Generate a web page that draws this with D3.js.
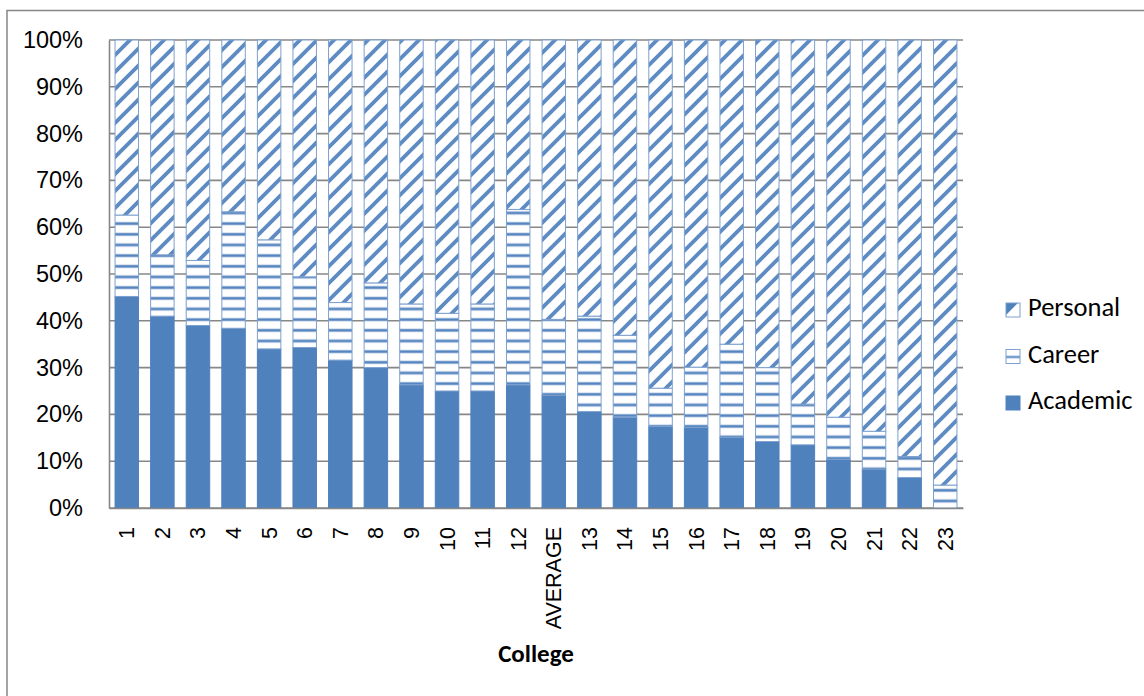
<!DOCTYPE html>
<html>
<head>
<meta charset="utf-8">
<script src="https://cdn.jsdelivr.net/npm/d3@7"></script>
<style>
  html, body { margin: 0; padding: 0; background: #fff; }
  svg { display: block; font-family: Carlito, Calibri, Lato, sans-serif; }
</style>
</head>
<body>
<svg id="chart" width="1144" height="696"></svg>
<script>
// Share of requests by type for each college (100% stacked)
const categories = ["1","2","3","4","5","6","7","8","9","10","11","12","AVERAGE",
                    "13","14","15","16","17","18","19","20","21","22","23"];
const academic = [45.2, 41.0, 39.0, 38.4, 34.0, 34.3, 31.6, 30.0, 26.3, 25.0, 25.0, 26.3,
                  24.1, 20.6, 19.4, 17.4, 17.2, 15.1, 14.2, 13.5, 10.4, 8.3, 6.5, 0.0];
const career   = [17.4, 13.1, 13.9, 24.9, 23.3, 15.1, 12.3, 18.1, 17.3, 16.6, 18.6, 37.5,
                  16.2, 20.4, 17.5, 8.2, 12.9, 19.9, 15.8, 8.7, 9.0, 8.1, 4.5, 4.9];
const personal = [37.4, 45.9, 47.1, 36.7, 42.7, 50.6, 56.1, 51.9, 56.4, 58.4, 56.4, 36.2,
                  59.7, 59.0, 63.1, 74.4, 69.9, 65.0, 70.0, 77.8, 80.6, 83.6, 89.0, 95.1];
const seriesKeys = ["academic", "career", "personal"];
const seriesNames = { academic: "Academic", career: "Career", personal: "Personal" };
const yTicks = [0, 0.1, 0.2, 0.3, 0.4, 0.5, 0.6, 0.7, 0.8, 0.9, 1.0];

const rows = categories.map((c, i) => ({
  college: c, academic: academic[i], career: career[i], personal: personal[i]
}));

const svg = d3.select("#chart");
const blue = "#4F81BD";
const edge = "#7da0cf";
const grid = "#878787";

// ---- fill patterns ----
const defs = svg.append("defs");

// upward diagonal stripes
const diag = defs.append("pattern")
  .attr("id", "pat-personal")
  .attr("patternUnits", "userSpaceOnUse")
  .attr("width", 17).attr("height", 17);
diag.append("rect").attr("width", 17).attr("height", 17).attr("fill", "#fff");
diag.append("path")
  .attr("d", "M-4,4 L4,-4 M0,17 L17,0 M13,21 L21,13")
  .attr("stroke", blue).attr("stroke-width", 3.8).attr("stroke-opacity", 0.92);

// horizontal stripes
const horiz = defs.append("pattern")
  .attr("id", "pat-career")
  .attr("patternUnits", "userSpaceOnUse")
  .attr("y", 5)
  .attr("width", 12).attr("height", 10.667);
horiz.append("rect").attr("width", 12).attr("height", 10.667).attr("fill", "#fff");
horiz.append("rect").attr("y", 3.6).attr("width", 12).attr("height", 3.4).attr("fill", "#a9c0df");
horiz.append("rect").attr("y", 4.3).attr("width", 12).attr("height", 2).attr("fill", blue);

// legend swatch versions
const diagL = defs.append("pattern")
  .attr("id", "pat-personal-legend")
  .attr("patternUnits", "objectBoundingBox")
  .attr("width", 1).attr("height", 1);
diagL.append("rect").attr("width", 14).attr("height", 14).attr("fill", "#fff");
diagL.append("path").attr("d", "M0,0 L14,0 L0,14 Z").attr("fill", blue);
diagL.append("path").attr("d", "M0,14 L14,0").attr("stroke", "#fff").attr("stroke-width", 3);
diagL.append("path").attr("d", "M5,14 L14,5 L14,14 Z").attr("fill", "#fff");

const horizL = defs.append("pattern")
  .attr("id", "pat-career-legend")
  .attr("patternUnits", "objectBoundingBox")
  .attr("width", 1).attr("height", 1);
horizL.append("rect").attr("width", 14).attr("height", 14).attr("fill", "#fff");
horizL.append("rect").attr("y", 6.5).attr("width", 14).attr("height", 2).attr("fill", blue);

const fills = { academic: blue, career: "url(#pat-career)", personal: "url(#pat-personal)" };
const legendFills = { academic: blue, career: "url(#pat-career-legend)", personal: "url(#pat-personal-legend)" };

// ---- outer frame ----
svg.append("rect")
  .attr("x", 7).attr("y", 10.5).attr("width", 1200).attr("height", 800)
  .attr("fill", "none").attr("stroke", grid).attr("stroke-width", 1.5);

// ---- scales ----
const x = d3.scaleBand()
  .domain(categories)
  .range([109, 963])
  .paddingInner(0.34)
  .paddingOuter(0.17);

const y = d3.scaleLinear().domain([0, 1]).range([508, 40]);

// ---- gridlines ----
svg.append("g")
  .selectAll("line")
  .data(yTicks)
  .join("line")
  .attr("x1", 109).attr("x2", 963)
  .attr("y1", d => y(d)).attr("y2", d => y(d))
  .attr("stroke", grid).attr("stroke-width", 1.6);

// ---- stacked bars ----
const stack = d3.stack().keys(seriesKeys).offset(d3.stackOffsetExpand);
const layers = stack(rows);

svg.append("g")
  .selectAll("g")
  .data(layers)
  .join("g")
  .attr("fill", d => fills[d.key])
  .attr("stroke", d => d.key === "academic" ? blue : edge)
  .attr("stroke-width", 1)
  .selectAll("rect")
  .data(d => d)
  .join("rect")
  .attr("x", d => x(d.data.college))
  .attr("width", x.bandwidth())
  .attr("y", d => y(d[1]))
  .attr("height", d => Math.max(0, y(d[0]) - y(d[1])));

// ---- axes ----
const yAxis = d3.axisLeft(y).tickValues(yTicks).tickFormat(d3.format(".0%")).tickSize(0).tickPadding(26);
const gy = svg.append("g").attr("transform", "translate(109,0)").call(yAxis);
gy.select(".domain").attr("stroke", grid).attr("stroke-width", 1.6);
gy.selectAll("text").attr("font-size", 23.5).attr("fill", "#000");

const xAxis = d3.axisBottom(x).tickSize(0).tickPadding(0);
const gx = svg.append("g").attr("transform", "translate(0,508)").call(xAxis);
gx.select(".domain").attr("stroke", grid).attr("stroke-width", 1.6);
gx.selectAll("text")
  .attr("font-size", 21.5).attr("fill", "#000")
  .attr("text-anchor", "end")
  .attr("transform", "rotate(-90)")
  .attr("x", -19).attr("y", 0).attr("dy", "0.35em");

// ---- axis title ----
svg.append("text")
  .attr("x", 536).attr("y", 662)
  .attr("text-anchor", "middle")
  .attr("font-size", 25).attr("font-weight", "bold")
  .text("College");

// ---- legend ----
const legendOrder = ["personal", "career", "academic"];
const lg = svg.append("g")
  .selectAll("g")
  .data(legendOrder)
  .join("g")
  .attr("transform", (d, i) => `translate(1006,${303 + i * 46.5})`);
lg.append("rect")
  .attr("width", 14).attr("height", 14)
  .attr("fill", d => legendFills[d])
  .attr("stroke", d => d === "academic" ? blue : edge).attr("stroke-width", 1);
lg.append("text")
  .attr("x", 22).attr("y", 13)
  .attr("font-size", 26.5).attr("fill", "#000")
  .text(d => seriesNames[d]);
</script>
</body>
</html>
